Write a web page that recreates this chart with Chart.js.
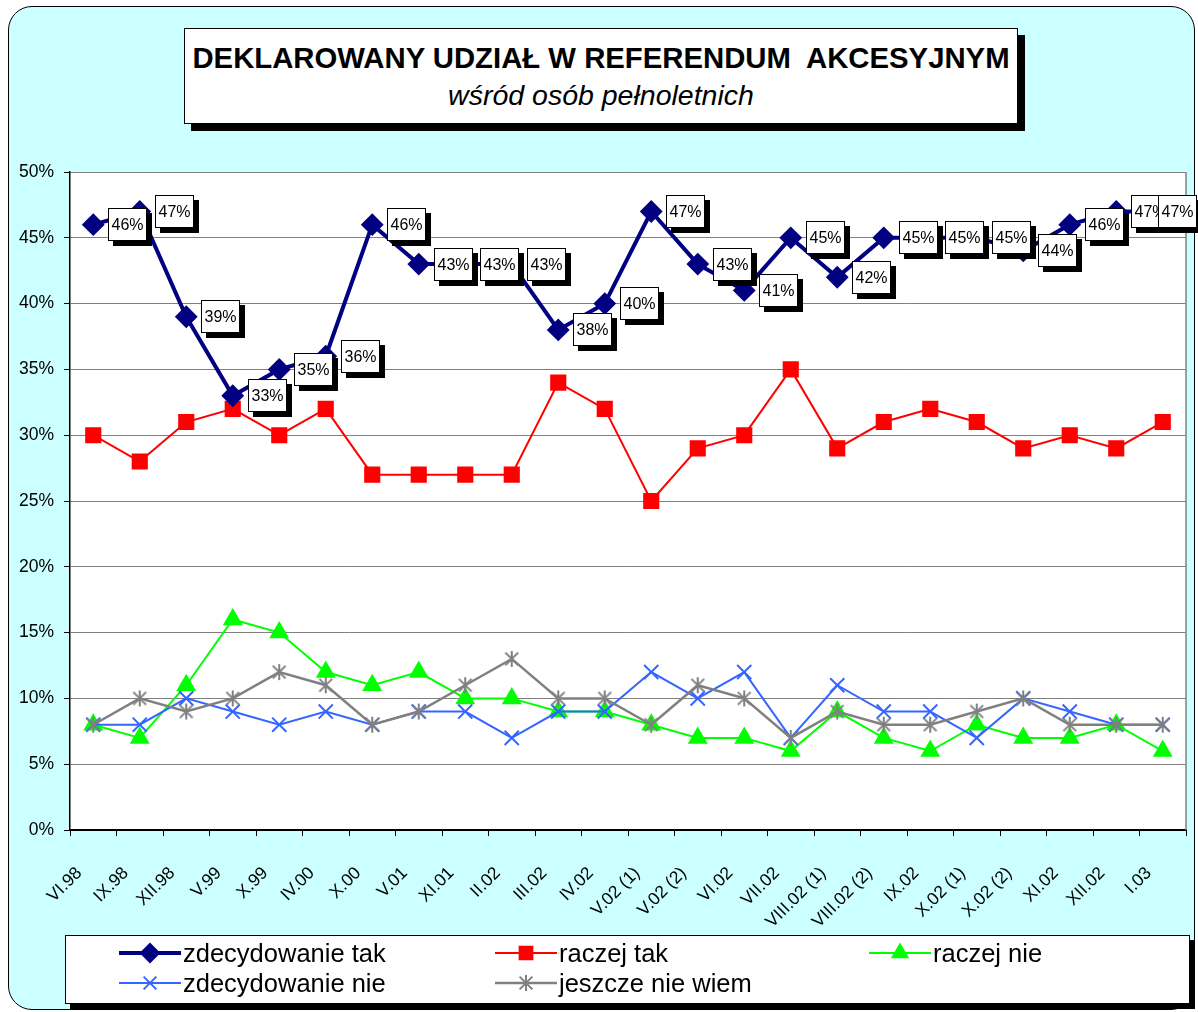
<!DOCTYPE html>
<html>
<head>
<meta charset="utf-8">
<script src="https://cdn.jsdelivr.net/npm/chart.js@4.4.1/dist/chart.umd.min.js"></script>
<style>
  body { margin: 0; width: 1198px; height: 1012px; background: #fff; position: relative; overflow: hidden;
         font-family: "Liberation Sans", Arial, sans-serif; }
  #frame { position: absolute; left: 8px; top: 6px; width: 1185px; height: 1002px; border: 1.5px solid #000;
           border-radius: 24px; background: #ccffff; }
  #title { position: absolute; left: 184px; top: 28px; width: 832px; height: 94px; background: #fff;
           border: 1px solid #000; box-shadow: 7px 7px 0 #000; text-align: center; }
  #title .main { font-weight: bold; font-size: 29.3px; line-height: 33px; margin-top: 12px; white-space: pre; }
  #title .sub { font-style: italic; font-size: 28.5px; line-height: 32px; margin-top: 5px; }
  #chart { position: absolute; left: 0; top: 0; }
  #legend { position: absolute; left: 65px; top: 935px; width: 1123px; height: 67px; background: #fff;
            border: 1px solid #000; box-shadow: 5px 5px 0 #000; }
  .item { position: absolute; display: flex; align-items: center; font-size: 25.5px; height: 30px; }
  .item canvas { margin-right: 2px; }
</style>
</head>
<body>
<div id="frame"></div>
<div id="title">
  <div class="main">DEKLAROWANY UDZIAŁ W REFERENDUM  AKCESYJNYM</div>
  <div class="sub">wśród osób pełnoletnich</div>
</div>
<canvas id="chart" width="1198" height="1012"></canvas>
<div id="legend"></div>

<script>
const categories = ['VI.98', 'IX.98', 'XII.98', 'V.99', 'X.99', 'IV.00', 'X.00', 'V.01', 'XI.01', 'II.02',
  'III.02', 'IV.02', 'V.02 (1)', 'V.02 (2)', 'VI.02', 'VII.02', 'VIII.02 (1)', 'VIII.02 (2)', 'IX.02',
  'X.02 (1)', 'X.02 (2)', 'XI.02', 'XII.02', 'I.03']

const zdecydowanieTak = [46, 47, 39, 33, 35, 36, 46, 43, 43, 43, 38, 40, 47, 43, 41, 45, 42, 45, 45, 45, 44, 46, 47, 47]
const raczejTak = [30, 28, 31, 32, 30, 32, 27, 27, 27, 27, 34, 32, 25, 29, 30, 35, 29, 31, 32, 31, 29, 30, 29, 31]
const raczejNie = [8, 7, 11, 16, 15, 12, 11, 12, 10, 10, 9, 9, 8, 7, 7, 6, 9, 7, 6, 8, 7, 7, 8, 6]
const zdecydowanieNie = [8, 8, 10, 9, 8, 9, 8, 9, 9, 7, 9, 9, 12, 10, 12, 7, 11, 9, 9, 7, 10, 9, 8, 8]
const jeszczeNieWiem = [8, 10, 9, 10, 12, 11, 8, 9, 11, 13, 10, 10, 8, 11, 10, 7, 9, 8, 8, 9, 10, 8, 8, 8]

const yTicks = [0, 5, 10, 15, 20, 25, 30, 35, 40, 45, 50]

const FONT = '"Liberation Sans", Arial, sans-serif'

// asterisk marker like the Excel one: an X plus a vertical stroke
function asterisk(color, size) {
  const c = document.createElement('canvas')
  c.width = size
  c.height = size
  const g = c.getContext('2d')
  const m = size / 2, r = size / 2 - 2
  g.strokeStyle = color
  g.lineWidth = 2
  g.beginPath()
  g.moveTo(m - r * 0.8, m - r * 0.8); g.lineTo(m + r * 0.8, m + r * 0.8)
  g.moveTo(m + r * 0.8, m - r * 0.8); g.lineTo(m - r * 0.8, m + r * 0.8)
  g.moveTo(m, m - r); g.lineTo(m, m + r)
  g.stroke()
  return c
}

const series = [
  { label: 'zdecydowanie tak', data: zdecydowanieTak, color: '#000080', width: 4, style: 'rectRot', radius: 10, order: 0 },
  { label: 'raczej tak', data: raczejTak, color: '#ff0000', width: 2, style: 'rect', radius: 10, order: 4 },
  { label: 'raczej nie', data: raczejNie, color: '#00ff00', width: 2, style: 'triangle', radius: 9.5, order: 3 },
  { label: 'zdecydowanie nie', data: zdecydowanieNie, color: '#3366ff', width: 2, style: 'crossRot', radius: 10, order: 2 },
  { label: 'jeszcze nie wiem', data: jeszczeNieWiem, color: '#808080', width: 2.5, style: asterisk('#808080', 20), radius: 9, order: 1 },
]

const dataLabels = {
  id: 'dataLabels',
  beforeDraw(chart) {
    const { ctx, chartArea } = chart
    ctx.save()
    ctx.fillStyle = '#fff'
    ctx.fillRect(chartArea.left, chartArea.top, chartArea.right - chartArea.left, chartArea.bottom - chartArea.top)
    ctx.restore()
  },
  beforeDatasetsDraw(chart) {
    const { ctx, chartArea } = chart
    ctx.save()
    ctx.strokeStyle = '#808080'
    ctx.lineWidth = 1.5
    ctx.beginPath()
    ctx.moveTo(chartArea.right, chartArea.top)
    ctx.lineTo(chartArea.right, chartArea.bottom)
    ctx.stroke()
    ctx.restore()
  },
  afterDatasetsDraw(chart) {
    const ctx = chart.ctx
    const meta = chart.getDatasetMeta(0)
    const w = 39, h = 33
    ctx.save()
    ctx.font = '16px ' + FONT
    ctx.textAlign = 'center'
    ctx.textBaseline = 'middle'
    meta.data.forEach((pt, i) => {
      const left = Math.round(Math.min(pt.x + 15, chart.width - w - 1))
      const top = Math.round(pt.y - h / 2)
      ctx.fillStyle = '#000'
      ctx.fillRect(left + 5, top + 5, w, h)
      ctx.fillStyle = '#fff'
      ctx.fillRect(left, top, w, h)
      ctx.strokeStyle = '#000'
      ctx.lineWidth = 1
      ctx.strokeRect(left + 0.5, top + 0.5, w - 1, h - 1)
      ctx.fillStyle = '#000'
      ctx.fillText(zdecydowanieTak[i] + '%', left + w / 2, top + h / 2 + 1)
    })
    ctx.restore()
  },
}

Chart.defaults.color = '#000'
Chart.defaults.font.family = FONT

const chart = new Chart(document.getElementById('chart'), {
  type: 'line',
  data: {
    labels: categories,
    datasets: series.map(s => ({
      label: s.label,
      data: s.data,
      borderColor: s.color,
      backgroundColor: s.color,
      borderWidth: s.width,
      pointStyle: s.style,
      pointRadius: s.radius,
      pointBackgroundColor: s.color,
      pointBorderColor: s.color,
      pointBorderWidth: 2,
      tension: 0,
      order: s.order,
    })),
  },
  options: {
    responsive: false,
    devicePixelRatio: 1,
    animation: false,
    events: [],
    layout: { padding: { top: 172, right: 11, left: 0, bottom: 0 } },
    plugins: { legend: { display: false }, title: { display: false }, tooltip: { enabled: false } },
    scales: {
      x: {
        offset: true,
        grid: { drawOnChartArea: false, offset: true, tickLength: 6, color: '#000' },
        border: { color: '#000', width: 2 },
        ticks: { maxRotation: 45, minRotation: 45, font: { size: 17.5 }, padding: 27, labelOffset: -14, autoSkip: false },
        afterFit: s => {
          s.height = 182
          s.paddingLeft = 0
          s.paddingRight = 0
        },
      },
      y: {
        min: 0,
        max: 50,
        afterBuildTicks: s => { s.ticks = yTicks.map(v => ({ value: v })) },
        grid: { color: '#808080', lineWidth: 1, tickLength: 6, tickColor: '#000' },
        border: { color: '#000', width: 1.5 },
        ticks: { font: { size: 17.5 }, padding: 10, callback: v => v + '%' },
        afterFit: s => { s.width = 70 },
      },
    },
  },
  plugins: [dataLabels],
})

// legend built from the same series list
const legendPos = [[53, 2], [429, 2], [803, 2], [53, 32], [429, 32]]
const legend = document.getElementById('legend')
series.forEach((s, i) => {
  const item = document.createElement('div')
  item.className = 'item'
  item.style.left = legendPos[i][0] + 'px'
  item.style.top = legendPos[i][1] + 'px'
  const c = document.createElement('canvas')
  c.width = 62
  c.height = 24
  const g = c.getContext('2d')
  g.strokeStyle = s.color
  g.lineWidth = s.width
  g.beginPath()
  g.moveTo(0, 12)
  g.lineTo(62, 12)
  g.stroke()
  g.fillStyle = s.color
  g.lineWidth = 2
  Chart.helpers.drawPoint(g, { pointStyle: s.style, radius: s.radius * 0.9, borderWidth: 2 }, 31, 12)
  const t = document.createElement('span')
  t.textContent = s.label
  item.appendChild(c)
  item.appendChild(t)
  legend.appendChild(item)
})
</script>
</body>
</html>
